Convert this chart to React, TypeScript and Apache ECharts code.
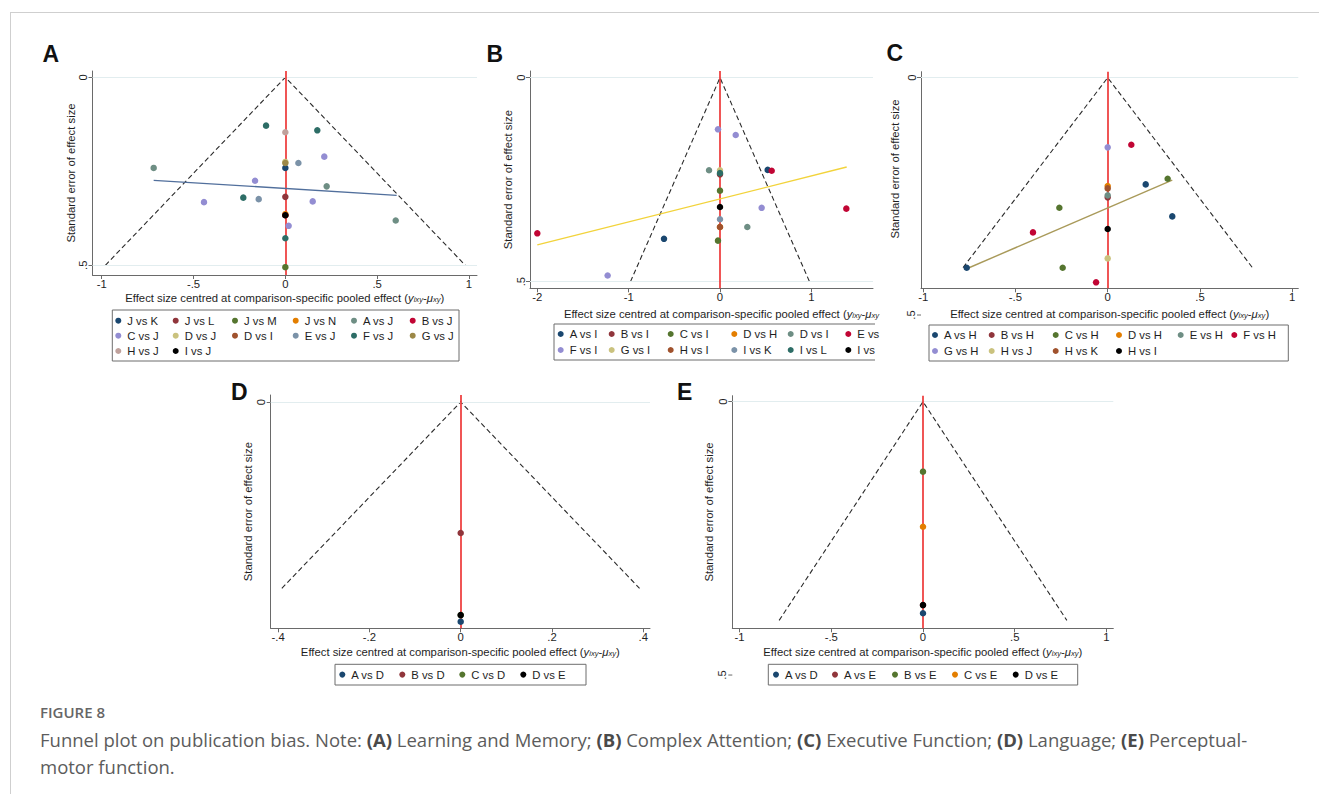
import React, { useEffect, useRef } from "react";
import * as echarts from "echarts";

type Pt = [number, number]; // [centred effect size, standard error]

// ---------------- Panel A: Learning and Memory ----------------
const namesA = ["J vs K", "J vs L", "J vs M", "J vs N", "A vs J", "B vs J", "C vs J", "D vs J", "D vs I", "E vs J", "F vs J", "G vs J", "H vs J", "I vs J"];
const pointsA: Pt[][] = [
  [[0, 0.241]],
  [[0, 0.318]],
  [[0, 0.505]],
  [[0, 0.364]],
  [[-0.717, 0.241], [0.225, 0.29], [0.601, 0.381]],
  [[0, 0.367]],
  [[0.212, 0.211], [-0.165, 0.275], [-0.443, 0.332], [0.149, 0.33], [0.018, 0.395]],
  [[0, 0.225]],
  [[0, 0.367]],
  [[0.071, 0.228], [-0.145, 0.324]],
  [[-0.105, 0.1285], [0.174, 0.141], [-0.229, 0.32], [0, 0.428]],
  [[0, 0.228]],
  [[0, 0.146]],
  [[0, 0.367]],
];
const funnelA: Pt[] = [[-0.98, 0.5], [0, 0], [0.98, 0.5]];
const regA: Pt[] = [[-0.717, 0.274], [0.606, 0.314]];
const xTicksA = [-1, -0.5, 0, 0.5, 1];
const yTicksA = [0, 0.5];

// ---------------- Panel B: Complex Attention ----------------
const namesB = ["A vs I", "B vs I", "C vs I", "D vs H", "D vs I", "E vs I", "F vs I", "G vs I", "H vs I", "I vs K", "I vs L", "I vs J"];
const pointsB: Pt[][] = [
  [[0.522, 0.226], [-0.613, 0.395]],
  [[0, 0.237]],
  [[0, 0.277], [-0.022, 0.3995]],
  [[0, 0.366]],
  [[-0.12, 0.227], [0.299, 0.366]],
  [[0.566, 0.228], [1.383, 0.321], [-2.0, 0.3815]],
  [[-0.022, 0.1266], [0.172, 0.1405], [0.456, 0.319], [-1.23, 0.485]],
  [[0, 0.227]],
  [[0, 0.366]],
  [[0, 0.347]],
  [[0, 0.234]],
  [[0, 0.317]],
];
const funnelB: Pt[] = [[-0.98, 0.5], [0, 0], [0.98, 0.5]];
const regB: Pt[] = [[-2.0, 0.41], [1.387, 0.219]];
const xTicksB = [-2, -1, 0, 1];
const yTicksB = [0, 0.5];

// ---------------- Panel C: Executive Function ----------------
const namesC = ["A vs H", "B vs H", "C vs H", "D vs H", "E vs H", "F vs H", "G vs H", "H vs J", "H vs K", "H vs I"];
const pointsC: Pt[][] = [
  [[0.206, 0.2248], [0.35, 0.2922], [-0.764, 0.4003]],
  [[0, 0.2521]],
  [[0.325, 0.2128], [-0.262, 0.2739], [-0.244, 0.4003]],
  [[0, 0.2283]],
  [[0, 0.2479]],
  [[0.128, 0.1412], [-0.405, 0.3259], [-0.063, 0.4311]],
  [[0, 0.1468]],
  [[0, 0.3807]],
  [[0, 0.2332]],
  [[0, 0.3189]],
];
const funnelC: Pt[] = [[-0.784, 0.4], [0, 0], [0.784, 0.4]];
const regC: Pt[] = [[-0.761, 0.402], [0.35, 0.2156]];
const xTicksC = [-1, -0.5, 0, 0.5, 1];
const yTicksC = [0, 0.5];

// ---------------- Panel D: Language ----------------
const namesD = ["A vs D", "B vs D", "C vs D", "D vs E"];
const pointsD: Pt[][] = [[[0, 0.2358]], [[0, 0.1406]], [[0, 0.2287]], [[0, 0.2287]]];
const funnelD: Pt[] = [[-0.392, 0.2], [0, 0], [0.392, 0.2]];
const xTicksD = [-0.4, -0.2, 0, 0.2, 0.4];
const yTicksD = [0, 0.5];

// ---------------- Panel E: Perceptual-motor function ----------------
const namesE = ["A vs D", "A vs E", "B vs E", "C vs E", "D vs E"];
const pointsE: Pt[][] = [[[0, 0.387]], [[0, 0.372]], [[0, 0.128]], [[0, 0.2287]], [[0, 0.372]]];
const funnelE: Pt[] = [[-0.784, 0.4], [0, 0], [0.784, 0.4]];
const xTicksE = [-1, -0.5, 0, 0.5, 1];
const yTicksE = [0, 0.5];

// ---------------- Texts ----------------
const xTitleFull = "Effect size centred at comparison-specific pooled effect ({i|y}{s|ixy}-{i|μ}{s|xy})";
const xTitleCut = "Effect size centred at comparison-specific pooled effect ({i|y}{s|ixy}-{i|μ}{s|xy}";
const yTitle = "Standard error of effect size";
const figureLabel = "FIGURE 8";
const captionLine1 =
  "Funnel plot on publication bias. Note: {b|(A)} Learning and Memory; {b|(B)} Complex Attention; {b|(C)} Executive Function; {b|(D)} Language; {b|(E)} Perceptual-";
const captionLine2 = "motor function.";

// ---------------- Styles ----------------
const FONT = '"Liberation Sans", Arial, Helvetica, sans-serif';
const CAP_FONT = '"Open Sans", "Noto Sans", sans-serif';
const FS = 11.3;
const TXT = "#1e1e1e";
const AXIS_C = "#6a6a6a";
const CAP_C = "#5c5c5c";
const palette = ["#1a476f", "#90353b", "#55752f", "#e37e00", "#6e8e84", "#c10534", "#938dd2", "#cac27e", "#a0522d", "#7b92a8", "#2d6d66", "#9c8847", "#bfa19c"];
const colorOf = (i: number, n: number) => (i === n - 1 ? "#000000" : palette[i % palette.length]);

// ---------------- Layout (pixels) ----------------
const layoutA = {
  grid: { left: 92.5, top: 71, width: 384.5, height: 204 },
  xRange: [-1.0501, 1.0436], yRange: [-0.0168, 0.5258],
  xName: xTitleFull, xNameGap: 17, xNamePad: [0, 0, 0, 0], yNameGap: 16, yNamePad: [0, 0, 0, 0],
  label: { text: "A", x: 42.5, y: 54 },
  legend: { box: [112.3, 310, 459, 361], open: false, rows: [320.7, 335.7, 351], cols: [118.3, 175.7, 235, 295.7, 354, 412.7], textWidth: 0 },
  regColor: "#516f9c",
};
const layoutB = {
  grid: { left: 530, top: 71, width: 343, height: 217.3 },
  xRange: [-2.08, 1.675], yRange: [-0.0164, 0.5163],
  xName: xTitleCut, xNameGap: 20, xNamePad: [0, 0, 0, 40], yNameGap: 17, yNamePad: [0, 0, 0, 0],
  label: { text: "B", x: 486.5, y: 53.5 },
  legend: { box: [554, 324, 875, 360], open: true, rows: [334, 350], cols: [560.7, 611.7, 670.7, 734.3, 790.7, 848.3], textWidth: 25 },
  regColor: "#f2d33b",
};
const layoutC = {
  grid: { left: 921, top: 71.7, width: 377.3, height: 216.6 },
  xRange: [-1.0119, 1.0331], yRange: [-0.0126, 0.4437],
  xName: xTitleFull, xNameGap: 20, xNamePad: [0, 0, 0, 0], yNameGap: 21, yNamePad: [0, 0, 0, 22],
  label: { text: "C", x: 886.5, y: 53 },
  legend: { box: [929, 325, 1288.3, 361], open: false, rows: [335, 351], cols: [935, 991.7, 1055.7, 1119, 1180.7, 1234.3], textWidth: 0 },
  regColor: "#a99a5a",
};
const layoutD = {
  grid: { left: 270.7, top: 395, width: 379.3, height: 233.3 },
  xRange: [-0.4164, 0.4149], yRange: [-0.0075, 0.2429],
  xName: xTitleFull, xNameGap: 18, xNamePad: [0, 0, 0, 0], yNameGap: 17.5, yNamePad: [0, 0, 0, 0],
  label: { text: "D", x: 231, y: 391.5 },
  legend: { box: [335, 664.3, 586, 685], open: false, rows: [674.6], cols: [342.3, 402.3, 462.3, 523.3], textWidth: 0 },
  regColor: "",
};
const layoutE = {
  grid: { left: 732.3, top: 395.7, width: 381, height: 232.6 },
  xRange: [-1.0392, 1.0371], yRange: [-0.011, 0.4145],
  xName: xTitleFull, xNameGap: 18, xNamePad: [0, 0, 0, 0], yNameGap: 17.5, yNamePad: [0, 0, 0, 0],
  label: { text: "E", x: 677, y: 391.5 },
  legend: { box: [768.3, 664.3, 1077.7, 685], open: false, rows: [674.6], cols: [776, 835, 895, 955, 1015.7], textWidth: 0 },
  regColor: "",
};
const captionLayout = { left: 40, yFigure: 712, yLine1: 739, yLine2: 766, size: 18.5, figSize: 15 };

const panels = [
  { names: namesA, points: pointsA, funnel: funnelA, reg: regA, xTicks: xTicksA, yTicks: yTicksA, L: layoutA },
  { names: namesB, points: pointsB, funnel: funnelB, reg: regB, xTicks: xTicksB, yTicks: yTicksB, L: layoutB },
  { names: namesC, points: pointsC, funnel: funnelC, reg: regC, xTicks: xTicksC, yTicks: yTicksC, L: layoutC },
  { names: namesD, points: pointsD, funnel: funnelD, reg: null as Pt[] | null, xTicks: xTicksD, yTicks: yTicksD, L: layoutD },
  { names: namesE, points: pointsE, funnel: funnelE, reg: null as Pt[] | null, xTicks: xTicksE, yTicks: yTicksE, L: layoutE },
];

const fmtTick = (v: number) => {
  const s = String(Math.round(v * 1000) / 1000);
  return s.replace(/^(-?)0\./, "$1.");
};

const titleRich = {
  i: { fontStyle: "italic", fontSize: FS, fontFamily: FONT, color: TXT },
  s: { fontStyle: "italic", fontSize: 7.6, fontFamily: FONT, color: TXT, verticalAlign: "bottom" },
};

function buildOption() {
  const grid: any[] = [];
  const xAxis: any[] = [];
  const yAxis: any[] = [];
  const series: any[] = [];
  const graphic: any[] = [];

  // page frame
  graphic.push({ type: "line", silent: true, shape: { x1: 10, y1: 12.5, x2: 1319, y2: 12.5 }, style: { stroke: "#cfcfcf", lineWidth: 1 } });
  graphic.push({ type: "line", silent: true, shape: { x1: 10.5, y1: 12.5, x2: 10.5, y2: 794 }, style: { stroke: "#cfcfcf", lineWidth: 1 } });

  panels.forEach((p, k) => {
    const L = p.L;
    const [x0, x1] = L.xRange;
    const [y0, y1] = L.yRange;
    const xIn = p.xTicks.filter((v) => v >= x0 && v <= x1);
    const yIn = p.yTicks.filter((v) => v >= y0 && v <= y1);
    const yOut = p.yTicks.filter((v) => v < y0 || v > y1);

    grid.push({ left: L.grid.left, top: L.grid.top, width: L.grid.width, height: L.grid.height, containLabel: false });

    xAxis.push({
      type: "value", gridIndex: k, min: x0, max: x1, position: "bottom",
      axisLine: { show: true, onZero: false, lineStyle: { color: AXIS_C, width: 1 } },
      axisTick: { show: true, length: 4, customValues: xIn, lineStyle: { color: AXIS_C, width: 1 } },
      axisLabel: { customValues: xIn, margin: 3, fontSize: FS, fontFamily: FONT, color: TXT, formatter: fmtTick },
      splitLine: { show: false },
      name: L.xName, nameLocation: "middle", nameGap: L.xNameGap,
      nameTextStyle: { fontSize: FS, fontFamily: FONT, color: TXT, padding: L.xNamePad, rich: titleRich },
    });
    yAxis.push({
      type: "value", gridIndex: k, min: y0, max: y1, inverse: true, position: "left",
      axisLine: { show: true, onZero: false, lineStyle: { color: AXIS_C, width: 1 } },
      axisTick: { show: true, length: 4, customValues: yIn, lineStyle: { color: AXIS_C, width: 1 } },
      axisLabel: { customValues: yIn, margin: 4, rotate: 90, fontSize: FS, fontFamily: FONT, color: TXT, formatter: fmtTick },
      splitLine: { show: false },
      name: yTitle, nameLocation: "middle", nameGap: L.yNameGap, nameRotate: 90,
      nameTextStyle: { fontSize: FS, fontFamily: FONT, color: TXT, padding: L.yNamePad },
    });

    // funnel (pseudo 95% CI) with grid lines and red null line
    series.push({
      type: "line", xAxisIndex: k, yAxisIndex: k, data: p.funnel, symbol: "none", silent: true, z: 3,
      lineStyle: { color: "#2a2a2a", width: 1.1, type: [5, 3] },
      markLine: {
        silent: true, symbol: "none", label: { show: false }, animation: false,
        data: [
          ...yIn.map((v) => ({ yAxis: v, lineStyle: { color: "#e2edef", width: 1, type: "solid" } })),
          { xAxis: 0, lineStyle: { color: "#ec2b2b", width: 1.6, type: "solid" } },
        ],
      },
    });

    if (p.reg) {
      series.push({
        type: "line", xAxisIndex: k, yAxisIndex: k, data: p.reg, symbol: "none", silent: true, z: 6,
        lineStyle: { color: L.regColor, width: 1.4, type: "solid" },
      });
    }

    p.names.forEach((name, i) => {
      series.push({
        name, type: "scatter", xAxisIndex: k, yAxisIndex: k, data: p.points[i],
        symbol: "circle", symbolSize: 6.5, z: 10,
        itemStyle: { color: colorOf(i, p.names.length), opacity: 1 },
      });
    });

    // stray y tick labels that Stata draws beyond the plotted range
    yOut.forEach((v) => {
      const py = L.grid.top + ((v - y0) / (y1 - y0)) * L.grid.height;
      if (py > 790) return;
      graphic.push({ type: "line", silent: true, shape: { x1: L.grid.left - 4, y1: py, x2: L.grid.left, y2: py }, style: { stroke: AXIS_C, lineWidth: 1 } });
      graphic.push({
        type: "text", silent: true, x: L.grid.left - 10, y: py, rotation: Math.PI / 2,
        style: { text: fmtTick(v), fontSize: FS, fontFamily: FONT, fill: TXT, align: "center", verticalAlign: "middle", textAlign: "center", textVerticalAlign: "middle" },
      });
    });

    // panel letter
    graphic.push({
      type: "text", silent: true, x: L.label.x, y: L.label.y,
      style: { text: L.label.text, fontSize: 23, fontWeight: "bold", fontFamily: FONT, fill: "#111", align: "left", verticalAlign: "middle", textAlign: "left", textVerticalAlign: "middle" },
    });

    // legend
    const lg = L.legend;
    const [bx0, by0, bx1, by1] = lg.box;
    if (lg.open) {
      graphic.push({ type: "polyline", silent: true, shape: { points: [[bx1, by0], [bx0, by0], [bx0, by1], [bx1, by1]] }, style: { stroke: "#6d6d6d", lineWidth: 1, fill: null } });
    } else {
      graphic.push({ type: "rect", silent: true, shape: { x: bx0, y: by0, width: bx1 - bx0, height: by1 - by0 }, style: { stroke: "#6d6d6d", lineWidth: 1, fill: "#ffffff" } });
    }
    const ncol = lg.cols.length;
    p.names.forEach((name, i) => {
      const r = Math.floor(i / ncol);
      const c = i % ncol;
      const cx = lg.cols[c];
      const cy = lg.rows[r];
      graphic.push({ type: "circle", silent: true, shape: { cx, cy, r: 3 }, style: { fill: colorOf(i, p.names.length) } });
      const st: any = { text: name, fontSize: FS, fontFamily: FONT, fill: TXT, align: "left", verticalAlign: "middle", textAlign: "left", textVerticalAlign: "middle" };
      if (lg.textWidth && c === ncol - 1) {
        st.width = lg.textWidth;
        st.overflow = "truncate";
        st.ellipsis = "";
      }
      graphic.push({ type: "text", silent: true, x: cx + 9, y: cy, style: st });
    });
  });

  // caption
  graphic.push({
    type: "text", silent: true, x: captionLayout.left, y: captionLayout.yFigure,
    style: { text: figureLabel, fontSize: captionLayout.figSize, fontWeight: 600, fontFamily: CAP_FONT, fill: "#666666", align: "left", verticalAlign: "middle", textAlign: "left", textVerticalAlign: "middle" },
  });
  graphic.push({
    type: "text", silent: true, x: captionLayout.left, y: captionLayout.yLine1,
    style: {
      text: captionLine1, fontSize: captionLayout.size, fontFamily: CAP_FONT, fill: CAP_C,
      align: "left", verticalAlign: "middle", textAlign: "left", textVerticalAlign: "middle",
      rich: { b: { fontSize: captionLayout.size, fontFamily: CAP_FONT, fontWeight: "bold", fill: "#4a4a4a" } },
    },
  });
  graphic.push({
    type: "text", silent: true, x: captionLayout.left, y: captionLayout.yLine2,
    style: { text: captionLine2, fontSize: captionLayout.size, fontFamily: CAP_FONT, fill: CAP_C, align: "left", verticalAlign: "middle", textAlign: "left", textVerticalAlign: "middle" },
  });

  return {
    animation: false,
    backgroundColor: "#ffffff",
    textStyle: { fontFamily: FONT },
    grid, xAxis, yAxis, series, graphic,
  };
}

export default function App() {
  const ref = useRef<HTMLDivElement>(null);
  useEffect(() => {
    if (!ref.current) return;
    const chart = echarts.init(ref.current, null, { renderer: "svg", width: 1319, height: 794 });
    chart.setOption(buildOption() as any);
    return () => chart.dispose();
  }, []);
  return <div ref={ref} style={{ position: "absolute", left: 0, top: 0, width: 1319, height: 794, background: "#fff" }} />;
}
